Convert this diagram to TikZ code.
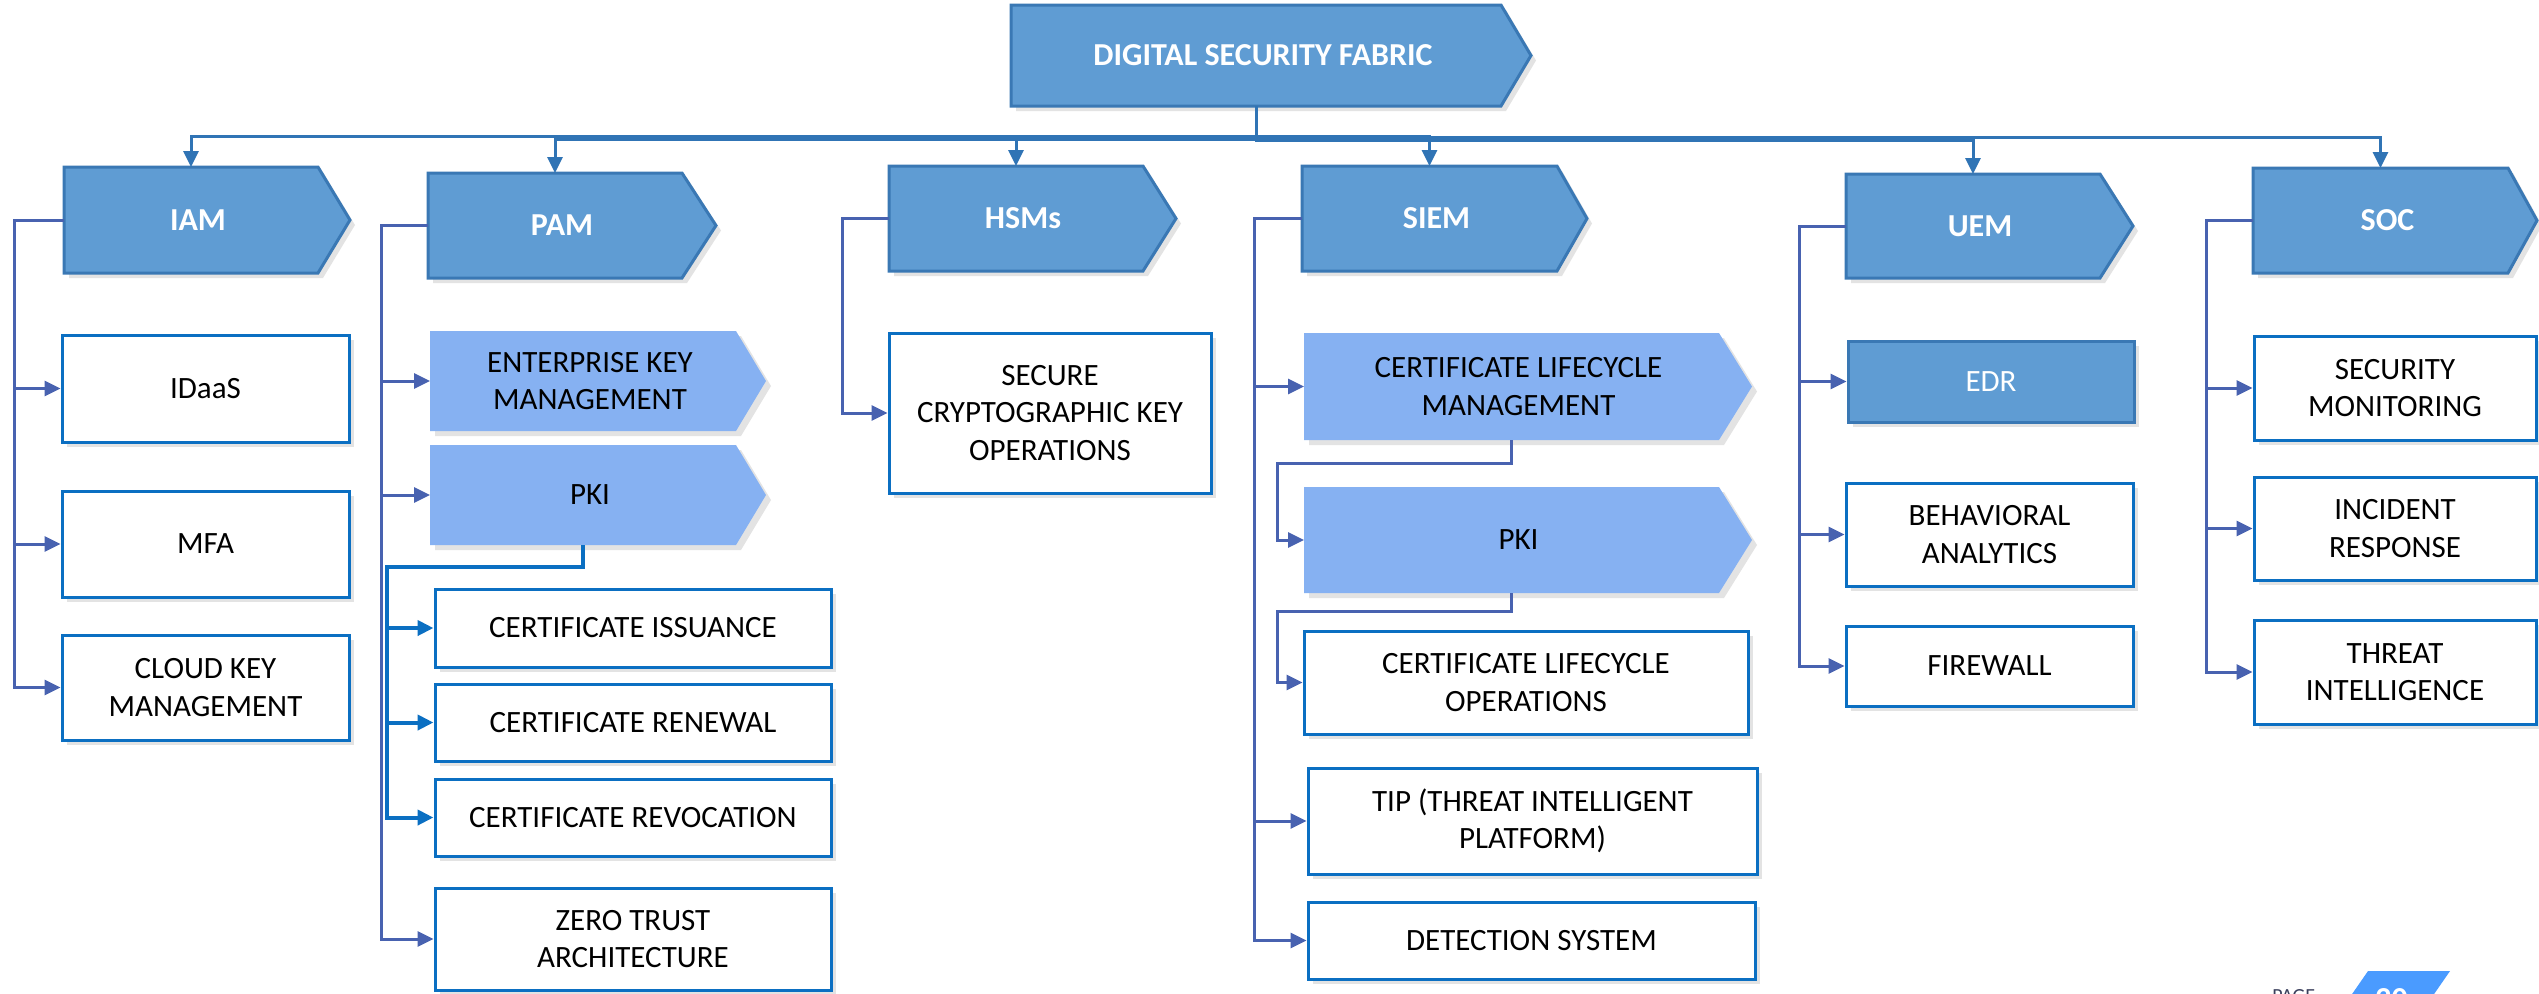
\documentclass[tikz,border=0pt]{standalone}
\usepackage{fontspec}
\setmainfont{Carlito}
\usetikzlibrary{arrows.meta,shadows,calc}
\definecolor{lvone}{HTML}{5F9CD3}
\definecolor{lvoneb}{HTML}{3A78B4}
\definecolor{ltblue}{HTML}{86B1F2}
\definecolor{boxb}{HTML}{0B6FC2}
\definecolor{brk}{HTML}{4862B0}
\definecolor{topl}{HTML}{3074B5}
\definecolor{pagec}{HTML}{4A9BFF}
\definecolor{pagetxt}{HTML}{3A3F5C}

\tikzset{
  shd/.style={drop shadow={opacity=0.22, shadow xshift=2.5pt, shadow yshift=-2.5pt}},
  lvshape/.style={fill=lvone, draw=lvoneb, line width=1.5pt, shd},
  ltshape/.style={fill=ltblue, shd},
  anchorbox/.style={rectangle, inner sep=0pt, outer sep=0pt},
  lvtext/.style={text=white, font=\fontsize{16}{19}\selectfont\bfseries, inner sep=0pt},
  chtext/.style={text=black, font=\fontsize{15.5}{18.8}\selectfont, align=center, inner sep=0pt},
  wbox/.style={rectangle, draw=boxb, fill=white, line width=1.5pt, shd, chtext},
  edrbox/.style={rectangle, draw=lvoneb, fill=lvone, line width=1.5pt, shd, inner sep=0pt,
    text=white, font=\fontsize{15.5}{18.8}\selectfont},
  arr/.style={-{Triangle[length=8pt,width=7.5pt]}},
  topc/.style={draw=topl, line width=1.5pt, arr},
  brc/.style={draw=brk, line width=1.5pt, arr},
  subc/.style={draw=boxb, line width=2pt, arr},
}

% #1 style, #2 name, #3 x1, #4 y1, #5 x2, #6 y2, #7 text
\newcommand\BoxAt[7]{%
  \node[#1, minimum width={(#5-#3)*0.5pt}, minimum height={(#6-#4)*0.5pt}]
    (#2) at ({(#3+#5)/2},{(#4+#6)/2}) {#7};}

% #1 shape style, #2 name, #3 x1, #4 y1, #5 x2 (rect right), #6 y2, #7 tip x, #8 text, #9 text style
\newcommand\ArrowAt[9]{%
  \path[#1] (#3,#4) -- (#5,#4) -- (#7,{(#4+#6)/2}) -- (#5,#6) -- (#3,#6) -- cycle;
  \node[anchorbox, minimum width={(#5-#3)*0.5pt}, minimum height={(#6-#4)*0.5pt}]
    (#2) at ({(#3+#5)/2},{(#4+#6)/2}) {};
  \node[#9] (#2t) at ([xshift=3.5pt]#2.center) {#8};}

\begin{document}
\begin{tikzpicture}[x=0.5pt,y=-0.5pt]
\useasboundingbox (0,0) rectangle (2539,993);
\clip (0,0) rectangle (2539,993);
\fill[white] (0,0) rectangle (2539,993);

% top
\ArrowAt{lvshape}{dsf}{1011}{5}{1501}{106}{1531}{DIGITAL SECURITY FABRIC}{lvtext}

% level one
\ArrowAt{lvshape}{iam}{64}{167}{318}{273}{350}{IAM}{lvtext}
\ArrowAt{lvshape}{pam}{428}{173}{682}{278}{716}{PAM}{lvtext}
\ArrowAt{lvshape}{hsm}{889}{166}{1143}{271}{1176}{HSMs}{lvtext}
\ArrowAt{lvshape}{siem}{1302}{166}{1557}{271}{1587}{SIEM}{lvtext}
\ArrowAt{lvshape}{uem}{1846}{174}{2100}{278}{2133}{UEM}{lvtext}
\ArrowAt{lvshape}{soc}{2253}{168}{2508}{273}{2537}{SOC}{lvtext}

% IAM children
\BoxAt{wbox}{idaas}{62}{335}{349}{442}{IDaaS}
\BoxAt{wbox}{mfa}{62}{491}{349}{597}{MFA}
\BoxAt{wbox}{ckm}{62}{635}{349}{740}{CLOUD KEY\\MANAGEMENT}

% PAM children
\ArrowAt{ltshape}{ekm}{430}{331}{736}{431}{766}{ENTERPRISE KEY\\MANAGEMENT}{chtext}
\ArrowAt{ltshape}{pkia}{430}{445}{736}{545}{766}{PKI}{chtext}
\BoxAt{wbox}{ci}{435}{589}{831}{667}{CERTIFICATE ISSUANCE}
\BoxAt{wbox}{cr}{435}{684}{831}{761}{CERTIFICATE RENEWAL}
\BoxAt{wbox}{cv}{435}{779}{831}{856}{CERTIFICATE REVOCATION}
\BoxAt{wbox}{zta}{435}{888}{831}{990}{ZERO TRUST\\ARCHITECTURE}

% HSMs child
\BoxAt{wbox}{scko}{889}{333}{1211}{493}{SECURE\\CRYPTOGRAPHIC KEY\\OPERATIONS}

% SIEM children
\ArrowAt{ltshape}{clm}{1304}{333}{1719}{440}{1752}{CERTIFICATE LIFECYCLE\\MANAGEMENT}{chtext}
\ArrowAt{ltshape}{pkib}{1304}{487}{1719}{593}{1752}{PKI}{chtext}
\BoxAt{wbox}{clo}{1304}{631}{1748}{734}{CERTIFICATE LIFECYCLE\\OPERATIONS}
\BoxAt{wbox}{tip}{1308}{768}{1757}{874}{TIP (THREAT INTELLIGENT\\PLATFORM)}
\BoxAt{wbox}{det}{1308}{902}{1755}{979}{DETECTION SYSTEM}

% UEM children
\BoxAt{edrbox}{edr}{1848}{341}{2134}{422}{EDR}
\BoxAt{wbox}{ba}{1846}{483}{2133}{586}{BEHAVIORAL\\ANALYTICS}
\BoxAt{wbox}{fw}{1846}{626}{2133}{706}{FIREWALL}

% SOC children
\BoxAt{wbox}{sm}{2254}{336}{2536}{440}{SECURITY\\MONITORING}
\BoxAt{wbox}{ir}{2254}{477}{2536}{580}{INCIDENT\\RESPONSE}
\BoxAt{wbox}{ti}{2254}{620}{2536}{724}{THREAT\\INTELLIGENCE}

% top connectors
\foreach \c in {iam,pam,hsm,siem,uem,soc}
  \draw[topc] (dsf.south) |- ($(dsf.south)!0.5!(\c.north)$) -| (\c.north);

% brackets
\foreach \c in {idaas,mfa,ckm}
  \draw[brc] (iam.west) -- ++(-50,0) |- (\c.west);
\foreach \c in {ekm,pkia,zta}
  \draw[brc] (pam.west) -- ++(-47,0) |- (\c.west);
\draw[brc] (hsm.west) -- ++(-47,0) |- (scko.west);
\foreach \c in {clm,tip,det}
  \draw[brc] (siem.west) -- ++(-48,0) |- (\c.west);
\foreach \c in {edr,ba,fw}
  \draw[brc] (uem.west) -- ++(-47,0) |- (\c.west);
\foreach \c in {sm,ir,ti}
  \draw[brc] (soc.west) -- ++(-47,0) |- (\c.west);

% PKI sub-branches
\foreach \c in {ci,cr,cv}
  \draw[subc] (pkia.south) -- ++(0,22) -- ++(-196,0) |- (\c.west);
\draw[brc] (clm.south) -- ++(0,23) -- ++(-234,0) |- (pkib.west);
\draw[brc] (pkib.south) -- ++(0,18) -- ++(-234,0) |- (clo.west);

% page marker (cut off at the bottom edge)
\fill[pagec] (2368,971) -- (2450,971) -- (2423,1010) -- (2341,1010) -- cycle;
\node[anchor=north west, inner sep=0pt, text=white, font=\fontsize{16}{19}\selectfont\bfseries] (pgnum) at (2375,988) {20};
\node[anchor=north west, inner sep=0pt, text=pagetxt, font=\fontsize{10}{12}\selectfont] (pglabel) at (2272,989) {PAGE};
\end{tikzpicture}
\end{document}
